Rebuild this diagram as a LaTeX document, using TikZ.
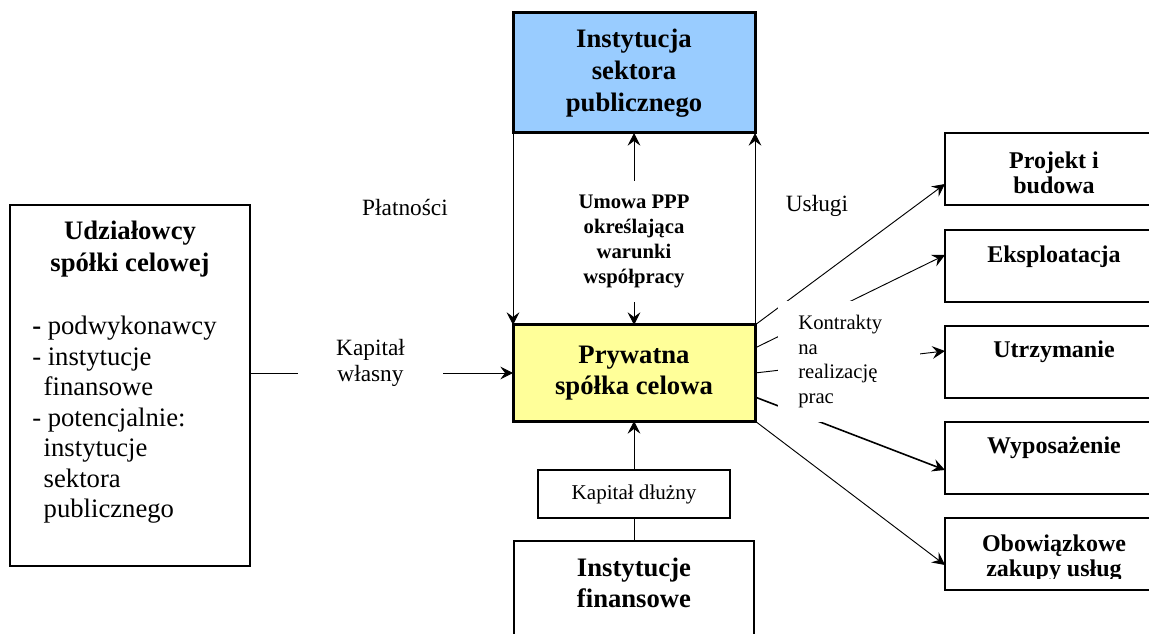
\documentclass[tikz,border=0pt]{standalone}
\usepackage{fontspec}
\setmainfont{Liberation Serif}
\usetikzlibrary{arrows.meta,calc}
\newcommand{\fsz}[2]{\fontsize{#1}{#2}\selectfont}
\definecolor{pubblue}{RGB}{153,204,255}
\definecolor{pryyellow}{RGB}{255,255,153}
\begin{document}
\begin{tikzpicture}[x=0.75pt,y=-0.75pt,
  box/.style={draw, rectangle, inner sep=0pt, outer sep=0pt, line width=1.5pt, align=center},
  thickbox/.style={box, line width=2.25pt},
  titlefont/.style={font={\fsz{20}{23.8}\bfseries}},
  rbox/.style={box, minimum width=163.5pt, minimum height=54pt},
  rtext/.style={font={\fsz{18}{18.75}\bfseries}, align=center, inner sep=0pt},
  tip/.tip={Stealth[length=9.5pt,width=9.5pt,inset=3.5pt]},
  arr/.style={-tip, line width=0.7pt},
  darr/.style={tip-tip, line width=0.7pt},
  lbl/.style={font={\fsz{17.5}{20}}, align=center}
]
\useasboundingbox (0,0) rectangle (1149,634);

% main boxes
\node[thickbox, fill=pubblue, minimum width=181.5pt, minimum height=90pt, titlefont] (pub) at (634,73) {Instytucja\\sektora\\publicznego};
\node[thickbox, fill=pryyellow, minimum width=181.5pt, minimum height=72pt, titlefont] (pry) at (634,373) {Prywatna\\spółka celowa};
\node[box, minimum width=180pt, minimum height=75pt, anchor=north] (fin) at (634,541) {};
\node[titlefont, align=center] (fint) at (634,583) {Instytucje\\finansowe};

% left box
\node[box, minimum width=180pt, minimum height=270.75pt] (ud) at (130,385.5) {};
\node[titlefont, align=center] (udt) at (130,249) {Udziałowcy\\spółki celowej};
\node[anchor=north west, inner sep=0pt, align=left, font={\fsz{20}{22.9}}] (udl) at (32,316) {\textbf{-} podwykonawcy\\- instytucje\\\hspace*{8.6pt}finansowe\\- potencjalnie:\\\hspace*{8.6pt}instytucje\\\hspace*{8.6pt}sektora\\\hspace*{8.6pt}publicznego};

% right boxes
\node[rbox] (pb) at (1054,169) {};
\node[rtext] (pbt) at (1054,173) {Projekt i\\budowa};
\node[rbox] (ek) at (1054,266) {};
\node[rtext] (ekt) at (1054,257) {Eksploatacja};
\node[rbox] (ut) at (1054,362) {};
\node[rtext] (utt) at (1054,352) {Utrzymanie};
\node[rbox] (wy) at (1054,458) {};
\node[rtext] (wyt) at (1054,448) {Wyposażenie};
\node[rbox] (ob) at (1054,554) {};
\begin{scope}
\clip (945,518) rectangle (1163,578);
\node[rtext] (obt) at (1054,558) {Obowiązkowe\\zakupy usług};
\end{scope}

% labels
\node[lbl] (plat) at (405,208) {Płatności};
\node[lbl] (usl) at (817,206) {Usługi};

% connectors
\draw[arr] (pub.south west) -- (pry.north west);
\draw[arr] (pry.north east) -- (pub.south east);
\draw[darr] (pub.south) -- (pry.north);
\draw[arr] (ud.east |- pry.west) -- (pry.west);
\draw[arr] (fin.north) -- (pry.south);

\draw[arr] (pry.north east) -- ($(pb.west)+(0,15)$);
\draw[arr] ($(pry.east)+(0,-25)$) -- ($(ek.west)+(0,-11)$);
\draw[arr] (pry.east) -- ($(ut.west)+(0,-11)$);
\draw[arr, line width=1.2pt] ($(pry.east)+(0,24)$) -- ($(wy.west)+(0,12)$);
\draw[arr] (pry.south east) -- ($(ob.west)+(0,11)$);

% white label nodes on top of connectors
\node[fill=white, inner sep=2pt, minimum height=90.75pt, align=center, font={\fsz{15.5}{18.75}\bfseries}] (umowa) at (634,241.5) {Umowa PPP\\określająca\\warunki\\współpracy};
\node[fill=white, minimum width=108.75pt, lbl] (kw) at (370.5,363) {Kapitał\\własny};
\node[box, fill=white, line width=1.1pt, minimum width=144pt, minimum height=36pt, font={\fsz{15.8}{18}}] (kd) at (634,494) {Kapitał dłużny};
\node[fill=white, inner xsep=15pt, inner ysep=0pt, text width=76pt, minimum height=90.75pt, align=left, font={\fsz{15.5}{18.4}}] (kon) at (849,361.5) {Kontrakty\\na\\realizację\\prac};
\end{tikzpicture}
\end{document}
